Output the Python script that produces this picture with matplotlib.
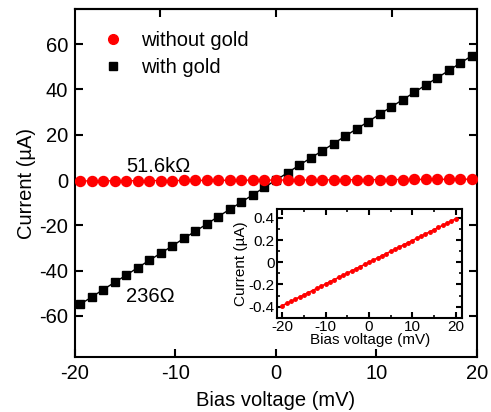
import matplotlib
matplotlib.use("Agg")
import matplotlib.pyplot as plt
from matplotlib.lines import Line2D

plt.rcParams['font.family'] = ['Liberation Sans', 'DejaVu Sans']

# main data (mV, µA)
bias_main = [-19.5, -18.35, -17.21, -16.06, -14.91, -13.76, -12.62, -11.47, -10.32,
             -9.18, -8.03, -6.88, -5.74, -4.59, -3.44, -2.29, -1.15, 0.0,
             1.15, 2.29, 3.44, 4.59, 5.74, 6.88, 8.03, 9.18, 10.32, 11.47,
             12.62, 13.76, 14.91, 16.06, 17.21, 18.35, 19.5]
with_gold = [-54.9, -51.7, -48.4, -45.2, -42.0, -38.7, -35.5, -32.3, -29.1,
             -25.8, -22.6, -19.4, -16.1, -12.9, -9.7, -6.5, -3.2, 0.0,
             3.2, 6.5, 9.7, 12.9, 16.1, 19.4, 22.6, 25.8, 29.1, 32.3,
             35.5, 38.7, 42.0, 45.2, 48.4, 51.7, 54.9]
without_gold = [-0.38, -0.36, -0.34, -0.31, -0.29, -0.27, -0.25, -0.22, -0.20,
                -0.18, -0.16, -0.13, -0.11, -0.09, -0.07, -0.04, -0.02, 0.0,
                0.02, 0.04, 0.07, 0.09, 0.11, 0.13, 0.16, 0.18, 0.20, 0.22,
                0.25, 0.27, 0.29, 0.31, 0.34, 0.36, 0.38]

# inset data
bias_inset = [-20, -19, -18, -17, -16, -15, -14, -13, -12, -11, -10, -9, -8, -7, -6,
              -5, -4, -3, -2, -1, 0, 1, 2, 3, 4, 5, 6, 7, 8, 9, 10, 11, 12, 13, 14,
              15, 16, 17, 18, 19, 20]
current_inset = [-0.392, -0.372, -0.353, -0.333, -0.314, -0.294, -0.274, -0.255,
                 -0.235, -0.216, -0.196, -0.176, -0.157, -0.137, -0.118, -0.098,
                 -0.078, -0.059, -0.039, -0.020, 0.0, 0.020, 0.039, 0.059, 0.078,
                 0.098, 0.118, 0.137, 0.157, 0.176, 0.196, 0.216, 0.235, 0.255,
                 0.274, 0.294, 0.314, 0.333, 0.353, 0.372, 0.392]

main_xticks = [-20, -10, 0, 10, 20]
main_yticks = [-60, -40, -20, 0, 20, 40, 60]
inset_xticks = [-20, -10, 0, 10, 20]
inset_yticks = [-0.4, -0.2, 0, 0.2, 0.4]
inset_ytick_labels = ['-0.4', '-0.2', '0', '0.2', '0.4']

fig = plt.figure(figsize=(4.91, 4.12), dpi=100)
ax = fig.add_axes([0.1527, 0.1342, 0.8187, 0.8432])

ax.plot(bias_main, with_gold, color='black', lw=1.0, marker='s', ms=5.8,
        mec='black', mfc='black', zorder=3)
ax.plot(bias_main, without_gold, color='#ff0000', lw=1.0, marker='o', ms=7.2,
        mec='#ff0000', mfc='#ff0000', zorder=4)

ax.set_xlim(-20, 20)
ax.set_ylim(-78, 75.4)
ax.set_xticks(main_xticks)
ax.set_yticks(main_yticks)
ax.set_xticklabels([str(v) for v in main_xticks])
ax.set_yticklabels([str(v) for v in main_yticks])
ax.tick_params(direction='in', length=6, width=1.5, labelsize=14.5, right=True,
               pad=5)
for s in ax.spines.values():
    s.set_linewidth(1.5)
secx = ax.secondary_xaxis('top')
secx.set_xticks([-11.5, 0, 11.5])
secx.set_xticklabels([])
secx.tick_params(direction='in', length=6, width=1.5)
secx.spines['top'].set_linewidth(1.5)

ax.set_xlabel('Bias voltage (mV)', fontsize=14.5, labelpad=6)
ax.set_ylabel('Current (µA)', fontsize=14.5, labelpad=2)

ax.text(-14.9, 3.7, '51.6kΩ', fontsize=14.5, ha='left', va='baseline')
ax.text(-14.9, -53.7, '236Ω', fontsize=14.5, ha='left', va='baseline')

handles = [Line2D([], [], color='#ff0000', marker='o', ls='none', ms=7.0),
           Line2D([], [], color='black', marker='s', ls='none', ms=5.2)]
ax.legend(handles, ['without gold', 'with gold'], loc='upper left',
          bbox_to_anchor=(0.05, 0.962), frameon=False, fontsize=14.5,
          handlelength=1.0, handletextpad=0.9, labelspacing=0.4,
          borderaxespad=0)

# inset
ins = fig.add_axes([0.5648, 0.2289, 0.3768, 0.2638])
ins.plot(bias_inset, current_inset, color='#ff0000', lw=1.2, marker='o', ms=2.5,
         mec='#ff0000', mfc='#ff0000')
ins.set_xlim(-21.15, 21.5)
ins.set_ylim(-0.5, 0.48)
ins.set_xticks(inset_xticks)
ins.set_xticklabels([str(v) for v in inset_xticks])
ins.set_yticks(inset_yticks)
ins.set_yticklabels(inset_ytick_labels)
ins.set_xticks([-15, -5, 5, 15], minor=True)
ins.set_yticks([-0.3, -0.1, 0.1, 0.3], minor=True)
ins.tick_params(which='major', direction='in', length=4, width=1.5,
                labelsize=11, top=True, right=True, pad=2)
ins.tick_params(which='minor', direction='in', length=2.5, width=1.2,
                top=True, right=True)
for s in ins.spines.values():
    s.set_linewidth(1.5)
ins.set_xlabel('Bias voltage (mV)', fontsize=11, labelpad=-1)
ins.set_ylabel('Current (µA)', fontsize=11, labelpad=0)

fig.savefig('out.png', dpi=100)
